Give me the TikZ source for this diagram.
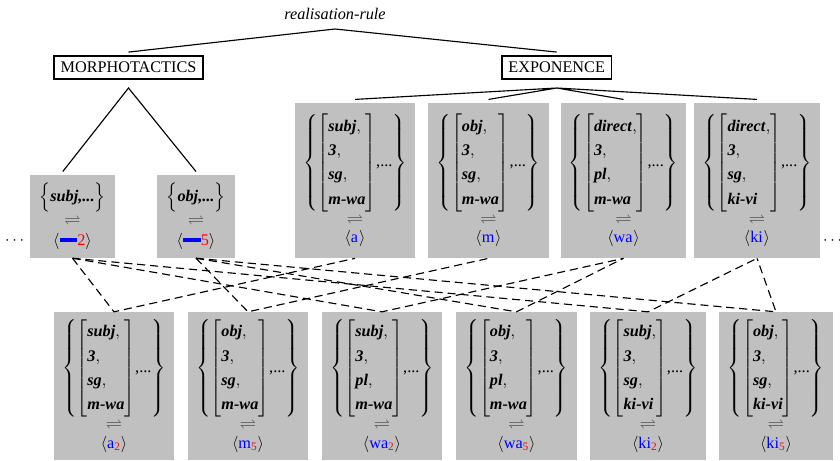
\documentclass[tikz,border=0pt]{standalone}
\usepackage{amsmath, amssymb}
\usepackage{fontspec}
\setmainfont{Liberation Serif}
\usepackage{xcolor}
\usetikzlibrary{positioning}

\definecolor{boxgray}{RGB}{192,192,192}
\newcommand{\bi}[1]{\textbf{\textit{#1}}}
\newcommand{\fstruc}[4]{\renewcommand{\arraystretch}{1.25}$\left\{\left[\begin{array}{@{}l@{}}\bi{#1},\\ \bi{#2},\\ \bi{#3},\\ \bi{#4}\end{array}\right]\!\text{,...}\right\}$}
\newcommand{\fset}[1]{$\Bigl\{\bi{#1,...}\Bigr\}$}
\newcommand{\corr}{$\textcolor{black!75}{\rightleftharpoons}$}
\newcommand{\realis}[2]{$\langle\text{\textcolor{blue}{#1}\textcolor{red}{\textsubscript{#2}}}\rangle$}
\newcommand{\slot}[1]{$\langle\text{\textcolor{blue}{\rule[0.55ex]{11pt}{2pt}}\textcolor{red}{#1}}\rangle$}

\tikzset{
  head/.style={draw, line width=1pt, inner xsep=4pt, minimum height=14pt},
  lexbox/.style={fill=boxgray, inner sep=0pt, align=center, minimum width=74pt, minimum height=95.5pt},
  lowbox/.style={lexbox, minimum height=91pt},
  mbox/.style={fill=boxgray, inner sep=0pt, align=center, minimum height=51pt},
  link/.style={line width=0.7pt, dash pattern=on 5pt off 3pt}
}

\begin{document}
\begin{tikzpicture}[x=0.616pt, y=-0.616pt]
      \useasboundingbox (0,0) rectangle (840,460);

      \node (rule) at (335,14) {\textit{realisation-rule}};
      \coordinate (top) at (335,29);
      \node[head] (morph) at (128.5,67.5) {MORPHOTACTICS};
      \node[head] (expo) at (556.7,67.5) {EXPONENCE};
      \coordinate (mo) at (128.5,88);
      \coordinate (ex) at (556.7,88);

      \node[mbox, minimum width=52.4pt] (subj) at (72.5,216.5) {\fset{subj}\\[2pt]\corr\\[1pt]\slot{2}};
      \node[mbox, minimum width=48pt] (obj) at (196,216.5) {\fset{obj}\\[2pt]\corr\\[1pt]\slot{5}};

      \node[lexbox] (a) at (355,180.5) {\fstruc{subj}{3}{sg}{m-wa}\\[1pt]\corr\\\realis{a}{}};
      \node[lexbox] (m) at (488.5,180.5) {\fstruc{obj}{3}{sg}{m-wa}\\[1pt]\corr\\\realis{m}{}};
      \node[lexbox, minimum width=77pt] (wa) at (623.5,180.5) {\fstruc{direct}{3}{pl}{m-wa}\\[1pt]\corr\\\realis{wa}{}};
      \node[lexbox, minimum width=77.5pt] (ki) at (757,180.5) {\fstruc{direct}{3}{sg}{ki-vi}\\[1pt]\corr\\\realis{ki}{}};

      \node[lowbox] (a2) at (114,386) {\fstruc{subj}{3}{sg}{m-wa}\\[1pt]\corr\\\realis{a}{2}};
      \node[lowbox] (m5) at (248,386) {\fstruc{obj}{3}{sg}{m-wa}\\[1pt]\corr\\\realis{m}{5}};
      \node[lowbox] (wa2) at (382,386) {\fstruc{subj}{3}{pl}{m-wa}\\[1pt]\corr\\\realis{wa}{2}};
      \node[lowbox] (wa5) at (516.5,386) {\fstruc{obj}{3}{pl}{m-wa}\\[1pt]\corr\\\realis{wa}{5}};
      \node[lowbox, minimum width=71.5pt] (ki2) at (648,386) {\fstruc{subj}{3}{sg}{ki-vi}\\[1pt]\corr\\\realis{ki}{2}};
      \node[lowbox, minimum width=70pt] (ki5) at (776,386) {\fstruc{obj}{3}{sg}{ki-vi}\\[1pt]\corr\\\realis{ki}{5}};

      \node[inner sep=0pt] (lmore) at (16,241) {$\cdots$};
      \node[inner sep=0pt] (rmore) at (834,241) {$\cdots$};

      % tree
      \draw[line width=0.7pt] ([yshift=2pt]morph.north) -- (top) -- ([yshift=2pt]expo.north);
      \draw[line width=0.7pt] ([xshift=-6pt, yshift=2pt]subj.north) -- (mo) -- ([yshift=2pt]obj.north);
      \draw[line width=0.7pt] ([yshift=2pt]a.north) -- (ex) -- ([yshift=2pt]m.north);
      \draw[line width=0.7pt] ([yshift=2pt]wa.north) -- (ex) -- ([yshift=2pt]ki.north);

      % links
      \draw[link] (subj.south) -- (a2.north) -- (a.south);
      \draw[link] (obj.south) -- (m5.north) -- (m.south);
      \draw[link] (subj.south) -- (wa2.north) -- (wa.south);
      \draw[link] (obj.south) -- (wa5.north) -- (wa.south);
      \draw[link] (subj.south) -- (ki2.north) -- (ki.south);
      \draw[link] (obj.south) -- (ki5.north) -- (ki.south);
    \end{tikzpicture}
\end{document}
